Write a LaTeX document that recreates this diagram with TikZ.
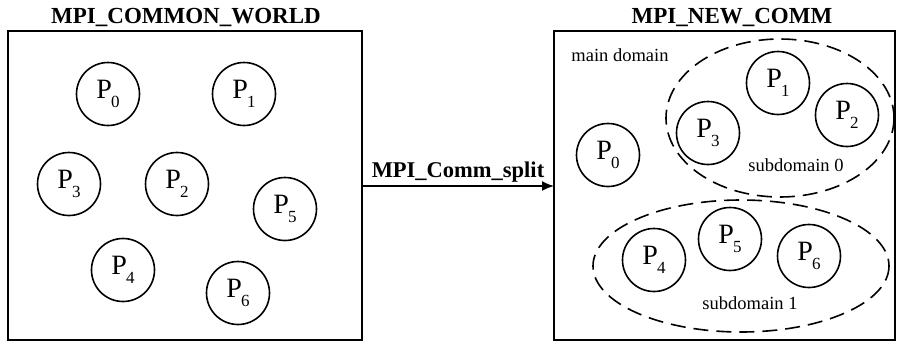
\documentclass[tikz,border=0pt]{standalone}
\usepackage{fontspec}
\setmainfont{Liberation Serif}
\usetikzlibrary{arrows.meta}
\newcommand{\proc}[1]{P\kern-1pt\raisebox{-0.3em}{\fontsize{17}{17}\selectfont #1}}
\begin{document}
\begin{tikzpicture}[x=1pt,y=-1pt,
  frame/.style={draw,line width=1.6pt},
  proc/.style={draw,circle,line width=1.6pt,minimum size=63pt,inner sep=0pt,font=\fontsize{28}{28}\selectfont},
  dom/.style={draw,line width=1.6pt,dash pattern=on 15pt off 8pt},
  title/.style={font=\bfseries\fontsize{23}{23}\selectfont},
  lbl/.style={font=\fontsize{18.5}{18.5}\selectfont}]
\useasboundingbox (0,0) rectangle (898,341);
% boxes
\node[frame,minimum width=354pt,minimum height=309pt,inner sep=0pt] (L) at (185,185.5) {};
\node[frame,minimum width=341pt,minimum height=309pt,inner sep=0pt] (R) at (724.5,185.5) {};
\node[title] (tl) at (186,17) {MPI\_COMMON\_WORLD};
\node[title] (tr) at (732,17) {MPI\_NEW\_COMM};
% arrow
\coordinate (a1) at (362,186);
\coordinate (a2) at (554,186);
\draw[line width=1.6pt,-{Latex[length=12pt,width=10pt]}] (a1) -- (a2)
  node[midway,above=0pt,font=\bfseries\fontsize{22.5}{22.5}\selectfont] (cs) {MPI\_Comm\_split};
% left processes
\node[proc] (l0) at (108,94) {\proc{0}};
\node[proc] (l1) at (244,94) {\proc{1}};
\node[proc] (l3) at (69,184) {\proc{3}};
\node[proc] (l2) at (177,184) {\proc{2}};
\node[proc] (l5) at (285,209) {\proc{5}};
\node[proc] (l4) at (123,270) {\proc{4}};
\node[proc] (l6) at (238,293) {\proc{6}};
% right domains
\draw[dom] (780,118) ellipse [x radius=114, y radius=79];
\draw[dom] (741,266) ellipse [x radius=148, y radius=66];
\node[lbl] (md) at (620,55) {main domain};
\node[lbl] (sd0) at (796,165) {subdomain 0};
\node[lbl] (sd1) at (750,303) {subdomain 1};
% right processes
\node[proc] (r0) at (608,155) {\proc{0}};
\node[proc] (r1) at (778,83) {\proc{1}};
\node[proc] (r3) at (708,133) {\proc{3}};
\node[proc] (r2) at (847,115) {\proc{2}};
\node[proc] (r5) at (730,239) {\proc{5}};
\node[proc] (r4) at (654,260) {\proc{4}};
\node[proc] (r6) at (809,256) {\proc{6}};
\end{tikzpicture}
\end{document}
